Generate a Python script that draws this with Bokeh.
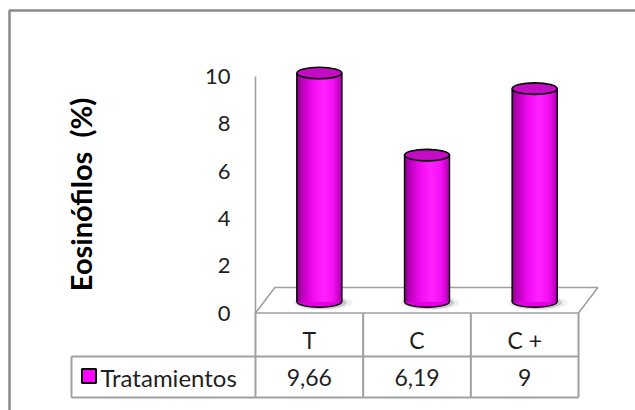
import numpy as np
from bokeh.plotting import figure
from bokeh.models import Range1d, ColumnDataSource
from bokeh.core.properties import value
from bokeh.embed import file_html
from bokeh.resources import INLINE

# ---- data ----
categories = ["T", "C", "C +"]
values = [9.66, 6.19, 9]
series_name = "Tratamientos"
y_ticks = [0, 2, 4, 6, 8, 10]
y_title = "Eosinófilos  (%)"
value_labels = [f"{v:g}".replace(".", ",") for v in values]

# ---- layout (pixel geometry -> data units) ----
W, H = 635, 410
PX_PER_CAT = 107.67
PX_PER_UNIT = 23.65
X0_PX = 255.0      # left edge of first category cell
Y0_PX = 312.5      # pixel row of value 0


def ux(px):
    return (px - X0_PX) / PX_PER_CAT


def vy(px):
    return (Y0_PX - px) / PX_PER_UNIT


x_range = Range1d(ux(0), ux(W))
y_range = Range1d(vy(H), vy(0))

p = figure(width=W, height=H, x_range=x_range, y_range=y_range,
           output_backend="svg", toolbar_location=None, min_border=0,
           x_axis_location=None, y_axis_location=None)
p.grid.visible = False
p.outline_line_color = None
p.background_fill_color = "white"
p.border_fill_color = "white"

FONT = value("Lato")
GRAY = "#a0a0a0"
TXT = "#1f1f1f"

# outer chart border (left and top only visible)
p.line([ux(9), ux(9), ux(W + 10)], [vy(H + 10), vy(10), vy(10)],
       line_color="#8a8a8a", line_width=2.5)

# floor parallelogram
n = len(categories)
dx = 0.18
dy = vy(287)
p.patch([0, dx, n + dx, n], [0, dy, dy, 0], fill_color="white",
        line_color=GRAY, line_width=1.6)
# side wall edge
p.line([0, 0], [0, y_ticks[-1]], line_color=GRAY, line_width=1.6)

# data table grid
v_mid = vy(356)
v_bot = vy(397)
u_leg = ux(71)
p.segment(x0=[u_leg, u_leg], y0=[v_mid, v_bot], x1=[n, n], y1=[v_mid, v_bot],
          line_color=GRAY, line_width=2)
xs_v = list(range(n + 1))
p.segment(x0=xs_v, y0=[0] * len(xs_v), x1=xs_v, y1=[v_bot] * len(xs_v),
          line_color=GRAY, line_width=2)
p.segment(x0=[u_leg], y0=[v_mid], x1=[u_leg], y1=[v_bot],
          line_color=GRAY, line_width=2)

# ---- cylinders ----
shift = 0.093
cw = 45 / PX_PER_CAT
eh = 11.5 / PX_PER_UNIT
base = vy(301)
cx = [i + 0.5 + shift for i in range(n)]
tops = [base + v for v in values]

# soft shadows under the bases
p.ellipse(x=[c + 0.03 for c in cx], y=[base - 0.05] * n, width=cw * 1.3,
          height=eh * 1.3, fill_color="#808080", fill_alpha=0.12, line_color=None)
p.ellipse(x=[c + 0.02 for c in cx], y=[base - 0.05] * n, width=cw * 1.12,
          height=eh * 1.1, fill_color="#505050", fill_alpha=0.25, line_color=None)

# bottom ellipse
p.ellipse(x=cx, y=[base] * n, width=cw, height=eh, fill_color="#e000e0",
          line_color="black", line_width=1.4)


def shade(t):
    # brightness profile across the cylinder body
    stops = [(0.0, (0x80, 0x00, 0x80)), (0.12, (0xb8, 0x00, 0xb8)),
             (0.35, (0xf0, 0x0c, 0xf0)), (0.6, (0xff, 0x22, 0xff)),
             (0.82, (0xf4, 0x10, 0xf4)), (1.0, (0xb0, 0x00, 0xb0))]
    for (a, ca), (b, cb) in zip(stops[:-1], stops[1:]):
        if a <= t <= b:
            s = (t - a) / (b - a)
            c = [ca[j] + (cb[j] - ca[j]) * s for j in range(3)]
            return "#%02x%02x%02x" % tuple(int(round(x)) for x in c)
    return "#ff00ff"


NS = 22
ov = 1.2 / PX_PER_CAT
L, R, B, T, C = [], [], [], [], []
for i in range(n):
    for k in range(NS):
        t0, t1 = k / NS, (k + 1) / NS
        L.append(cx[i] - cw / 2 + cw * t0)
        R.append(min(cx[i] - cw / 2 + cw * t1 + ov, cx[i] + cw / 2))
        B.append(base)
        T.append(tops[i])
        C.append(shade((t0 + t1) / 2))
p.quad(source=ColumnDataSource(dict(left=L, right=R, bottom=B, top=T, color=C)),
       left="left", right="right", bottom="bottom", top="top",
       fill_color="color", line_color="color", line_width=0.6)

# body side edges
p.segment(x0=[c - cw / 2 for c in cx], y0=[base] * n, x1=[c - cw / 2 for c in cx],
          y1=tops, line_color="black", line_width=1.4)
p.segment(x0=[c + cw / 2 for c in cx], y0=[base] * n, x1=[c + cw / 2 for c in cx],
          y1=tops, line_color="black", line_width=1.4)

# top ellipse
p.ellipse(x=cx, y=tops, width=cw, height=eh, fill_color="#c40cc4",
          line_color="black", line_width=1.6)

# ---- texts ----
p.text(x=[ux(230)] * len(y_ticks), y=y_ticks, text=[str(t) for t in y_ticks],
       text_align="right", text_baseline="middle", text_font=FONT,
       text_font_size="22px", text_color=TXT)

p.text(x=[ux(80)], y=[vy(194)], text=[y_title.replace("  ", " \u00a0")],
       angle=np.pi / 2, text_align="center", text_baseline="middle",
       text_font=FONT, text_font_size="29px", text_font_style="bold",
       text_color="black")

p.text(x=[i + 0.5 for i in range(n)], y=[vy(339)] * n, text=categories,
       text_align="center", text_baseline="middle", text_font=FONT,
       text_font_size="23px", text_color=TXT)
p.text(x=[i + 0.5 for i in range(n)], y=[vy(377)] * n, text=value_labels,
       text_align="center", text_baseline="middle", text_font=FONT,
       text_font_size="23px", text_color=TXT)

# legend key + series name
p.scatter(x=[ux(88.5)], y=[vy(375.5)], marker="square", size=14,
          fill_color="#ff00ff", line_color="black", line_width=2)
p.text(x=[ux(100)], y=[vy(377)], text=[series_name], text_align="left",
       text_baseline="middle", text_font=FONT, text_font_size="24px",
       text_color=TXT)

open("out.html", "w").write(file_html(p, INLINE))
